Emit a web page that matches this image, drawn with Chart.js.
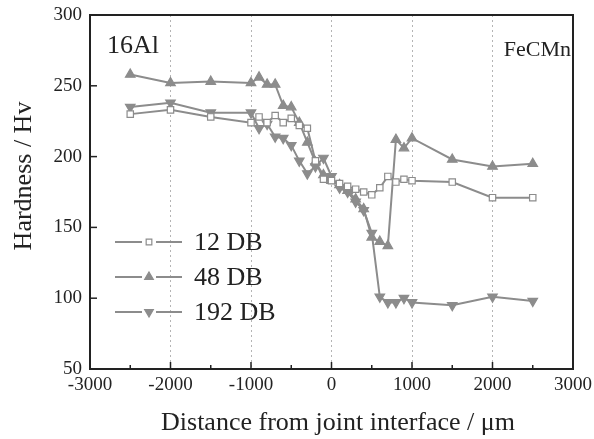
<!DOCTYPE html>
<html>
<head>
<meta charset="utf-8">
<script src="https://cdn.jsdelivr.net/npm/chart.js@4/dist/chart.umd.min.js"></script>
<style>
  html, body { margin: 0; padding: 0; background: #fff; }
  #wrap { width: 594px; height: 439px; }
</style>
</head>
<body>
<div id="wrap"><canvas id="hvChart" width="594" height="439"></canvas></div>
<script>
//------------------------------------
// Data
//------------------------------------

const distances = [-2500, -2000, -1500, -1000, -900, -800, -700, -600, -500, -400, -300, -200, -100,
    0, 100, 200, 300, 400, 500, 600, 700, 800, 900, 1000, 1500, 2000, 2500];

const hv12 = [230, 233, 228, 224, 228, 224, 229, 224, 227, 222, 220, 197, 184,
    183, 181, 179, 177, 175, 173, 178, 186, 182, 184, 183, 182, 171, 171];

const hv48 = [258, 252, 253, 252, 256, 251, 251, 236, 235, 224, 210, 196, 187,
    183, 180, 176, 170, 163, 143, 140, 137, 212, 206, 213, 198, 193, 195];

const hv192 = [235, 238, 231, 231, 220, 223, 214, 213, 208, 197, 188, 193, 199,
    186, 178, 175, 168, 162, 146, 101, 97, 97, 100, 97, 95, 101, 98];

const seriesNames = ["12 DB", "48 DB", "192 DB"];

const xTicks = [-3000, -2000, -1000, 0, 1000, 2000, 3000];
const yTicks = [50, 100, 150, 200, 250, 300];

const GRAY = "#8c8c8c";
const INK = "#222";
const SERIF = "'Liberation Serif', 'DejaVu Serif', serif";

function toPoints(ys) {
    return distances.map(function (d, i) { return { x: d, y: ys[i] }; });
}

//------------------------------------
// Frame, inward ticks, labels, legend
//------------------------------------

const decorPlugin = {
    id: "decor",
    afterDraw: function (chart) {
        const ctx = chart.ctx;
        const area = chart.chartArea;
        const xs = chart.scales.x;
        const ys = chart.scales.y;

        ctx.save();

        // box frame
        ctx.strokeStyle = INK;
        ctx.lineWidth = 2;
        ctx.strokeRect(area.left, area.top, area.right - area.left, area.bottom - area.top);

        // inward ticks on x (major 1000, minor 500)
        ctx.lineWidth = 1.5;
        for (let v = -2500; v <= 2500; v += 500) {
            const px = xs.getPixelForValue(v);
            const len = (v % 1000 === 0) ? 7 : 4;
            ctx.beginPath();
            ctx.moveTo(px, area.bottom);
            ctx.lineTo(px, area.bottom - len);
            ctx.stroke();
        }

        // inward ticks on y
        yTicks.forEach(function (v) {
            const py = ys.getPixelForValue(v);
            ctx.beginPath();
            ctx.moveTo(area.left, py);
            ctx.lineTo(area.left + 7, py);
            ctx.stroke();
        });

        // corner labels
        ctx.fillStyle = INK;
        ctx.textBaseline = "alphabetic";
        ctx.font = "26px " + SERIF;
        ctx.textAlign = "left";
        ctx.fillText("16Al", 107, 53);
        ctx.font = "22px " + SERIF;
        ctx.textAlign = "right";
        ctx.fillText("FeCMn", 571, 56);

        // axis titles
        ctx.font = "26px " + SERIF;
        ctx.textAlign = "center";
        ctx.fillText("Distance from joint interface / \u03bcm", 338, 430);

        ctx.save();
        ctx.translate(31, 176);
        ctx.rotate(-Math.PI / 2);
        ctx.fillText("Hardness / Hv", 0, 0);
        ctx.restore();

        // legend
        const rows = [242, 277, 312];
        chart.data.datasets.forEach(function (ds, i) {
            const y = rows[i];
            ctx.strokeStyle = GRAY;
            ctx.lineWidth = 2;
            ctx.beginPath();
            ctx.moveTo(115, y);
            ctx.lineTo(182, y);
            ctx.stroke();

            ctx.fillStyle = "#fff";
            ctx.fillRect(142, y - 6, 14, 12);

            ctx.fillStyle = ds.pointBackgroundColor;
            ctx.strokeStyle = GRAY;
            ctx.lineWidth = 1.2;
            Chart.helpers.drawPoint(ctx, {
                pointStyle: ds.pointStyle,
                radius: ds.pointStyle === "rect" ? 4 : 5,
                rotation: ds.pointRotation || 0,
                borderWidth: 1.2
            }, 149, y);

            ctx.fillStyle = INK;
            ctx.font = "26px " + SERIF;
            ctx.textAlign = "left";
            ctx.textBaseline = "middle";
            ctx.fillText(seriesNames[i], 194, y + 1);
        });

        ctx.restore();
    }
};

//------------------------------------
// Chart
//------------------------------------

window.addEventListener("load", function () {

    const ctx = document.getElementById("hvChart");

    const common = {
        borderColor: GRAY,
        borderWidth: 2,
        tension: 0,
        fill: false,
        pointBorderColor: GRAY,
        pointBorderWidth: 1.2
    };

    const datasets = [
        Object.assign({}, common, {
            label: seriesNames[0],
            data: toPoints(hv12),
            pointStyle: "rect",
            pointRadius: 4.5,
            pointBackgroundColor: "#fff",
            order: 1
        }),
        Object.assign({}, common, {
            label: seriesNames[1],
            data: toPoints(hv48),
            pointStyle: "triangle",
            pointRadius: 5.5,
            pointBackgroundColor: GRAY,
            order: 3
        }),
        Object.assign({}, common, {
            label: seriesNames[2],
            data: toPoints(hv192),
            pointStyle: "triangle",
            pointRotation: 180,
            pointRadius: 5.5,
            pointBackgroundColor: GRAY,
            order: 2
        })
    ];

    new Chart(ctx, {
        type: "line",
        data: { datasets: datasets },
        options: {
            responsive: false,
            animation: false,
            layout: { padding: { top: 15, right: 21, left: 0, bottom: 0 } },
            plugins: {
                legend: { display: false },
                tooltip: { enabled: false }
            },
            scales: {
                x: {
                    type: "linear",
                    min: -3000,
                    max: 3000,
                    afterFit: function (s) {
                        s.height = 70;
                        s.paddingLeft = 0;
                        s.paddingRight = 0;
                    },
                    afterBuildTicks: function (s) {
                        s.ticks = xTicks.map(function (v) { return { value: v }; });
                    },
                    ticks: {
                        color: INK,
                        font: { family: SERIF, size: 19 },
                        padding: 5,
                        maxRotation: 0,
                        autoSkip: false,
                        callback: function (v) { return String(v); }
                    },
                    grid: {
                        drawTicks: false,
                        lineWidth: 1,
                        color: function (c) {
                            const v = c.tick ? c.tick.value : 0;
                            return (v === -3000 || v === 3000) ? "rgba(0,0,0,0)" : "#b4b4b4";
                        }
                    },
                    border: { display: false, dash: [2, 3] }
                },
                y: {
                    min: 50,
                    max: 300,
                    afterFit: function (s) {
                        s.width = 90;
                        s.paddingTop = 0;
                        s.paddingBottom = 0;
                    },
                    afterBuildTicks: function (s) {
                        s.ticks = yTicks.map(function (v) { return { value: v }; });
                    },
                    ticks: {
                        color: INK,
                        font: { family: SERIF, size: 19 },
                        padding: 8,
                        callback: function (v) { return String(v); }
                    },
                    grid: { display: false, drawTicks: false },
                    border: { display: false }
                }
            }
        },
        plugins: [decorPlugin]
    });

});
</script>
</body>
</html>
